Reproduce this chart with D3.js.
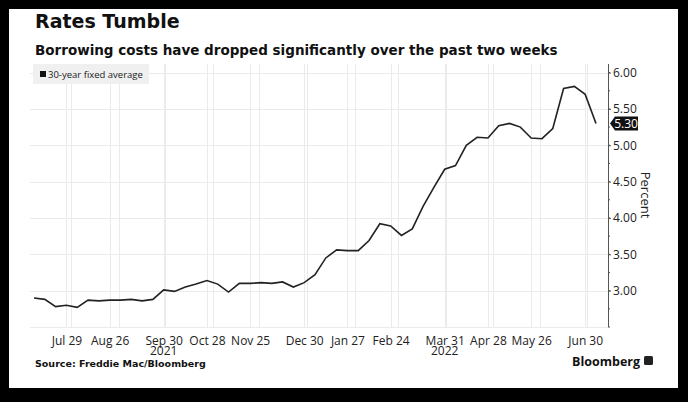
<!DOCTYPE html>
<html>
<head>
<meta charset="utf-8">
<script src="https://cdn.jsdelivr.net/npm/d3@7"></script>
<style>
  body { margin: 0; background: #000; }
  svg { display: block; }
</style>
</head>
<body>
<div id="chart"></div>
<script>
// weekly Freddie Mac 30-year fixed average, Jul 8 2021 .. Jul 7 2022
const startDate = "2021-07-08";
const rates = [
  2.90, 2.88, 2.78, 2.80, 2.77, 2.87, 2.86, 2.87, 2.87, 2.88, 2.86, 2.88,
  3.01, 2.99, 3.05, 3.09, 3.14, 3.09, 2.98, 3.10, 3.10, 3.11, 3.10, 3.12,
  3.05, 3.11, 3.22, 3.45, 3.56, 3.55, 3.55, 3.69, 3.92, 3.89, 3.76, 3.85,
  4.16, 4.42, 4.67, 4.72, 5.00, 5.11, 5.10, 5.27, 5.30, 5.25, 5.10, 5.09,
  5.23, 5.78, 5.81, 5.70, 5.30
];
const xTickDates = ["2021-07-29", "2021-08-26", "2021-09-30", "2021-10-28", "2021-11-25",
  "2021-12-30", "2022-01-27", "2022-02-24", "2022-03-31", "2022-04-28", "2022-05-26", "2022-06-30"];
const yTicks = [3.0, 3.5, 4.0, 4.5, 5.0, 5.5, 6.0];
const yearLabels = [{ date: "2021-09-30", text: "2021" }, { date: "2022-03-31", text: "2022" }];

const parse = d3.utcParse("%Y-%m-%d");
const t0 = parse(startDate);
const data = rates.map((v, i) => ({ date: d3.utcDay.offset(t0, i * 7), value: v }));

const W = 688, H = 402;
const svg = d3.select("#chart").append("svg").attr("width", W).attr("height", H);
svg.append("rect").attr("x", 9).attr("y", 9).attr("width", 669).attr("height", 379).attr("fill", "#fff");

const pLeft = 34, pRight = 608, pTop = 64, pBottom = 327;
const x = d3.scaleUtc().domain([data[0].date, data[data.length - 1].date]).range([pLeft, 596]);
// 6.00 sits at ~72 and 3.00 at ~290
const y = d3.scaleLinear().domain([2.5, 2.5 + (pBottom - pTop) / 72.7]).range([pBottom, pTop]);

const tickDates = xTickDates.map(parse);
const monthStarts = d3.utcMonth.range(d3.utcMonth.ceil(data[0].date), data[data.length - 1].date);

// grid
const grid = svg.append("g").attr("stroke", "#ebebeb").attr("stroke-width", 1);
monthStarts.concat(tickDates).forEach(d => {
  grid.append("line").attr("x1", Math.round(x(d)) + 0.5).attr("x2", Math.round(x(d)) + 0.5)
    .attr("y1", pTop).attr("y2", pBottom);
});
d3.range(2.5, 6.01, 0.5).forEach(v => {
  grid.append("line").attr("x1", pLeft - 4).attr("x2", pRight)
    .attr("y1", Math.round(y(v)) + 0.5).attr("y2", Math.round(y(v)) + 0.5);
});

// right axis
const yAxis = svg.append("g").attr("transform", `translate(${pRight},0)`)
  .call(d3.axisRight(y).tickValues(yTicks).tickFormat(d3.format(".2f")).tickSize(3).tickPadding(2));
yAxis.select(".domain").attr("stroke", "#555").attr("d", `M0.5,${pTop}V${pBottom}`);
yAxis.selectAll(".tick line").attr("stroke", "#555");
yAxis.selectAll("text").attr("font-family", "Open Sans").attr("font-size", 12).attr("fill", "#222");
svg.append("g").selectAll("line").data(d3.range(2.5, 6.01, 0.25)).join("line")
  .attr("x1", pRight).attr("x2", pRight + 2).attr("y1", d => y(d)).attr("y2", d => y(d)).attr("stroke", "#555");

svg.append("text").attr("transform", `translate(641,195) rotate(90)`)
  .attr("text-anchor", "middle").attr("font-family", "Open Sans").attr("font-size", 13).attr("fill", "#222")
  .text("Percent");

// x axis labels
const xAxis = svg.append("g").attr("transform", `translate(0,${pBottom})`)
  .call(d3.axisBottom(x).tickValues(tickDates).tickFormat(d3.utcFormat("%b %-d")).tickSize(0).tickPadding(9));
xAxis.select(".domain").remove();
xAxis.selectAll("text").attr("font-family", "Open Sans").attr("font-size", 12).attr("fill", "#222");
svg.append("g").selectAll("text").data(yearLabels).join("text")
  .attr("x", d => x(parse(d.date))).attr("y", 355).attr("text-anchor", "middle")
  .attr("font-family", "Open Sans").attr("font-size", 12).attr("fill", "#222").text(d => d.text);

// line
svg.append("path").datum(data).attr("fill", "none").attr("stroke", "#222").attr("stroke-width", 1.6)
  .attr("d", d3.line().x(d => x(d.date)).y(d => y(d.value)));

// last value label
const last = data[data.length - 1];
const ly = y(last.value);
svg.append("path").attr("fill", "#111")
  .attr("d", `M${pRight + 2},${ly} L${pRight + 7},${ly - 7} H${pRight + 30} V${ly + 7} H${pRight + 7} Z`);
svg.append("text").attr("x", pRight + 18).attr("y", ly + 4.5).attr("text-anchor", "middle")
  .attr("font-family", "Open Sans").attr("font-size", 12).attr("fill", "#fff").text(last.value.toFixed(2));

// legend
svg.append("rect").attr("x", 33).attr("y", 64).attr("width", 116).attr("height", 20).attr("fill", "#f0f0f0");
svg.append("rect").attr("x", 40).attr("y", 71).attr("width", 6).attr("height", 6).attr("fill", "#111");
svg.append("text").attr("x", 48).attr("y", 78).attr("font-family", "Open Sans").attr("font-size", 9.5)
  .attr("fill", "#222").text("30-year fixed average");

// titles
svg.append("text").attr("x", 35).attr("y", 28).attr("font-family", "DejaVu Sans").attr("font-weight", "bold")
  .attr("font-size", 19).attr("fill", "#111").text("Rates Tumble");
svg.append("text").attr("x", 35).attr("y", 55).attr("font-family", "DejaVu Sans").attr("font-weight", "bold")
  .attr("font-size", 13.5).attr("fill", "#111").text("Borrowing costs have dropped significantly over the past two weeks");
svg.append("text").attr("x", 35).attr("y", 367).attr("font-family", "DejaVu Sans").attr("font-weight", "bold")
  .attr("font-size", 9.5).attr("fill", "#111").text("Source: Freddie Mac/Bloomberg");
svg.append("text").attr("x", 640).attr("y", 366).attr("text-anchor", "end").attr("font-family", "Open Sans")
  .attr("font-weight", "bold").attr("font-size", 12.5).attr("fill", "#111").text("Bloomberg");
svg.append("rect").attr("x", 644).attr("y", 356).attr("width", 9).attr("height", 9).attr("rx", 1.5).attr("fill", "#222");
</script>
</body>
</html>
